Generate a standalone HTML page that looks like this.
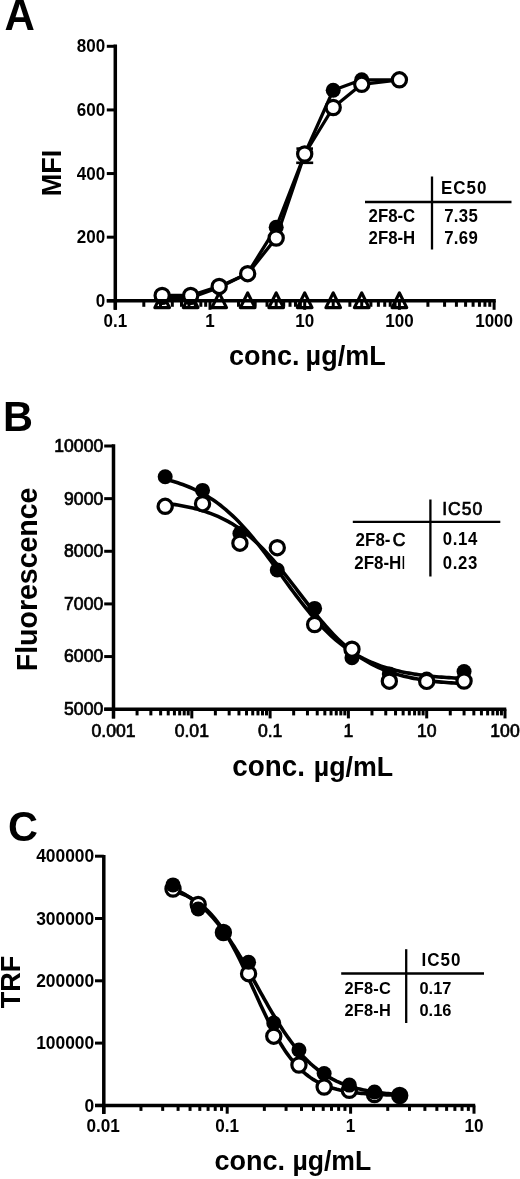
<!DOCTYPE html>
<html><head><meta charset="utf-8"><title>Figure</title>
<style>
html,body{margin:0;padding:0;background:#fff;}
body{width:520px;height:1179px;overflow:hidden;}
svg{display:block;filter:grayscale(100%);}
svg text{font-family:"Liberation Sans", sans-serif;fill:#000;}
</style></head><body>
<svg width="520" height="1179" viewBox="0 0 520 1179">
<rect width="520" height="1179" fill="#fff"/>
<text transform="translate(4.60,29.80) scale(1,1.04)" font-size="42" font-weight="bold" text-anchor="start" >A</text>
<polygon points="162.16,292.90 154.86,307.60 169.46,307.60" fill="#fff" stroke="#000" stroke-width="3.2" stroke-linejoin="round"/>
<polygon points="190.67,292.90 183.37,307.60 197.97,307.60" fill="#fff" stroke="#000" stroke-width="3.2" stroke-linejoin="round"/>
<polygon points="219.18,292.90 211.88,307.60 226.48,307.60" fill="#fff" stroke="#000" stroke-width="3.2" stroke-linejoin="round"/>
<polygon points="247.68,292.90 240.38,307.60 254.98,307.60" fill="#fff" stroke="#000" stroke-width="3.2" stroke-linejoin="round"/>
<polygon points="276.19,292.90 268.89,307.60 283.49,307.60" fill="#fff" stroke="#000" stroke-width="3.2" stroke-linejoin="round"/>
<polygon points="304.70,292.90 297.40,307.60 312.00,307.60" fill="#fff" stroke="#000" stroke-width="3.2" stroke-linejoin="round"/>
<polygon points="333.21,292.90 325.91,307.60 340.51,307.60" fill="#fff" stroke="#000" stroke-width="3.2" stroke-linejoin="round"/>
<polygon points="361.72,292.90 354.42,307.60 369.02,307.60" fill="#fff" stroke="#000" stroke-width="3.2" stroke-linejoin="round"/>
<polygon points="399.40,292.90 392.10,307.60 406.70,307.60" fill="#fff" stroke="#000" stroke-width="3.2" stroke-linejoin="round"/>
<polyline points="162.16,297.60 190.67,297.60 219.18,287.50 247.68,273.20 276.19,227.30 304.70,154.00 333.21,90.20 361.72,79.80 399.40,79.80" fill="none" stroke="#000" stroke-width="3.3" stroke-linejoin="round" stroke-linecap="round"/>
<polyline points="162.16,295.50 190.67,295.50 219.18,286.40 247.68,273.70 276.19,238.00 304.70,154.00 333.21,107.50 361.72,84.30 399.40,79.80" fill="none" stroke="#000" stroke-width="3.3" stroke-linejoin="round" stroke-linecap="round"/>
<circle cx="162.16" cy="297.60" r="7.5" fill="#000"/>
<circle cx="190.67" cy="297.60" r="7.5" fill="#000"/>
<circle cx="219.18" cy="287.50" r="7.5" fill="#000"/>
<circle cx="247.68" cy="273.20" r="7.5" fill="#000"/>
<circle cx="276.19" cy="227.30" r="7.5" fill="#000"/>
<circle cx="304.70" cy="154.00" r="7.5" fill="#000"/>
<circle cx="333.21" cy="90.20" r="7.5" fill="#000"/>
<circle cx="361.72" cy="79.80" r="7.5" fill="#000"/>
<circle cx="399.40" cy="79.80" r="7.5" fill="#000"/>
<line x1="296.40" y1="148.60" x2="313.00" y2="148.60" stroke="#000" stroke-width="2.6" stroke-linecap="butt"/>
<line x1="296.20" y1="162.80" x2="313.20" y2="162.80" stroke="#000" stroke-width="2.6" stroke-linecap="butt"/>
<line x1="304.70" y1="148.60" x2="304.70" y2="162.80" stroke="#000" stroke-width="2.6" stroke-linecap="butt"/>
<circle cx="162.16" cy="295.50" r="7.1" fill="#fff" stroke="#000" stroke-width="3.2"/>
<circle cx="190.67" cy="295.50" r="7.1" fill="#fff" stroke="#000" stroke-width="3.2"/>
<circle cx="219.18" cy="286.40" r="7.1" fill="#fff" stroke="#000" stroke-width="3.2"/>
<circle cx="247.68" cy="273.70" r="7.1" fill="#fff" stroke="#000" stroke-width="3.2"/>
<circle cx="276.19" cy="238.00" r="7.1" fill="#fff" stroke="#000" stroke-width="3.2"/>
<circle cx="304.70" cy="154.00" r="7.1" fill="#fff" stroke="#000" stroke-width="3.2"/>
<circle cx="333.21" cy="107.50" r="7.1" fill="#fff" stroke="#000" stroke-width="3.2"/>
<circle cx="361.72" cy="84.30" r="7.1" fill="#fff" stroke="#000" stroke-width="3.2"/>
<circle cx="399.40" cy="79.80" r="7.1" fill="#fff" stroke="#000" stroke-width="3.2"/>
<line x1="115.30" y1="44.60" x2="115.30" y2="309.80" stroke="#000" stroke-width="3.5" stroke-linecap="butt"/>
<line x1="106.80" y1="300.80" x2="115.30" y2="300.80" stroke="#000" stroke-width="3.0" stroke-linecap="butt"/>
<text transform="translate(105.20,306.80) scale(1,1.04)" font-size="17" font-weight="bold" text-anchor="end" >0</text>
<line x1="106.80" y1="237.18" x2="115.30" y2="237.18" stroke="#000" stroke-width="3.0" stroke-linecap="butt"/>
<text transform="translate(105.20,243.18) scale(1,1.04)" font-size="17" font-weight="bold" text-anchor="end" >200</text>
<line x1="106.80" y1="173.55" x2="115.30" y2="173.55" stroke="#000" stroke-width="3.0" stroke-linecap="butt"/>
<text transform="translate(105.20,179.55) scale(1,1.04)" font-size="17" font-weight="bold" text-anchor="end" >400</text>
<line x1="106.80" y1="109.93" x2="115.30" y2="109.93" stroke="#000" stroke-width="3.0" stroke-linecap="butt"/>
<text transform="translate(105.20,115.93) scale(1,1.04)" font-size="17" font-weight="bold" text-anchor="end" >600</text>
<line x1="106.80" y1="46.30" x2="115.30" y2="46.30" stroke="#000" stroke-width="3.0" stroke-linecap="butt"/>
<text transform="translate(105.20,52.30) scale(1,1.04)" font-size="17" font-weight="bold" text-anchor="end" >800</text>
<line x1="106.80" y1="300.80" x2="495.80" y2="300.80" stroke="#000" stroke-width="3.5" stroke-linecap="butt"/>
<line x1="115.30" y1="300.80" x2="115.30" y2="309.80" stroke="#000" stroke-width="3.0" stroke-linecap="butt"/>
<line x1="143.81" y1="300.80" x2="143.81" y2="306.80" stroke="#000" stroke-width="3.0" stroke-linecap="butt"/>
<line x1="160.48" y1="300.80" x2="160.48" y2="306.80" stroke="#000" stroke-width="3.0" stroke-linecap="butt"/>
<line x1="172.32" y1="300.80" x2="172.32" y2="306.80" stroke="#000" stroke-width="3.0" stroke-linecap="butt"/>
<line x1="181.49" y1="300.80" x2="181.49" y2="306.80" stroke="#000" stroke-width="3.0" stroke-linecap="butt"/>
<line x1="188.99" y1="300.80" x2="188.99" y2="306.80" stroke="#000" stroke-width="3.0" stroke-linecap="butt"/>
<line x1="195.33" y1="300.80" x2="195.33" y2="306.80" stroke="#000" stroke-width="3.0" stroke-linecap="butt"/>
<line x1="200.82" y1="300.80" x2="200.82" y2="306.80" stroke="#000" stroke-width="3.0" stroke-linecap="butt"/>
<line x1="205.67" y1="300.80" x2="205.67" y2="306.80" stroke="#000" stroke-width="3.0" stroke-linecap="butt"/>
<line x1="210.00" y1="300.80" x2="210.00" y2="309.80" stroke="#000" stroke-width="3.0" stroke-linecap="butt"/>
<line x1="238.51" y1="300.80" x2="238.51" y2="306.80" stroke="#000" stroke-width="3.0" stroke-linecap="butt"/>
<line x1="255.18" y1="300.80" x2="255.18" y2="306.80" stroke="#000" stroke-width="3.0" stroke-linecap="butt"/>
<line x1="267.02" y1="300.80" x2="267.02" y2="306.80" stroke="#000" stroke-width="3.0" stroke-linecap="butt"/>
<line x1="276.19" y1="300.80" x2="276.19" y2="306.80" stroke="#000" stroke-width="3.0" stroke-linecap="butt"/>
<line x1="283.69" y1="300.80" x2="283.69" y2="306.80" stroke="#000" stroke-width="3.0" stroke-linecap="butt"/>
<line x1="290.03" y1="300.80" x2="290.03" y2="306.80" stroke="#000" stroke-width="3.0" stroke-linecap="butt"/>
<line x1="295.52" y1="300.80" x2="295.52" y2="306.80" stroke="#000" stroke-width="3.0" stroke-linecap="butt"/>
<line x1="300.37" y1="300.80" x2="300.37" y2="306.80" stroke="#000" stroke-width="3.0" stroke-linecap="butt"/>
<line x1="304.70" y1="300.80" x2="304.70" y2="309.80" stroke="#000" stroke-width="3.0" stroke-linecap="butt"/>
<line x1="333.21" y1="300.80" x2="333.21" y2="306.80" stroke="#000" stroke-width="3.0" stroke-linecap="butt"/>
<line x1="349.88" y1="300.80" x2="349.88" y2="306.80" stroke="#000" stroke-width="3.0" stroke-linecap="butt"/>
<line x1="361.72" y1="300.80" x2="361.72" y2="306.80" stroke="#000" stroke-width="3.0" stroke-linecap="butt"/>
<line x1="370.89" y1="300.80" x2="370.89" y2="306.80" stroke="#000" stroke-width="3.0" stroke-linecap="butt"/>
<line x1="378.39" y1="300.80" x2="378.39" y2="306.80" stroke="#000" stroke-width="3.0" stroke-linecap="butt"/>
<line x1="384.73" y1="300.80" x2="384.73" y2="306.80" stroke="#000" stroke-width="3.0" stroke-linecap="butt"/>
<line x1="390.22" y1="300.80" x2="390.22" y2="306.80" stroke="#000" stroke-width="3.0" stroke-linecap="butt"/>
<line x1="395.07" y1="300.80" x2="395.07" y2="306.80" stroke="#000" stroke-width="3.0" stroke-linecap="butt"/>
<line x1="399.40" y1="300.80" x2="399.40" y2="309.80" stroke="#000" stroke-width="3.0" stroke-linecap="butt"/>
<line x1="427.91" y1="300.80" x2="427.91" y2="306.80" stroke="#000" stroke-width="3.0" stroke-linecap="butt"/>
<line x1="444.58" y1="300.80" x2="444.58" y2="306.80" stroke="#000" stroke-width="3.0" stroke-linecap="butt"/>
<line x1="456.42" y1="300.80" x2="456.42" y2="306.80" stroke="#000" stroke-width="3.0" stroke-linecap="butt"/>
<line x1="465.59" y1="300.80" x2="465.59" y2="306.80" stroke="#000" stroke-width="3.0" stroke-linecap="butt"/>
<line x1="473.09" y1="300.80" x2="473.09" y2="306.80" stroke="#000" stroke-width="3.0" stroke-linecap="butt"/>
<line x1="479.43" y1="300.80" x2="479.43" y2="306.80" stroke="#000" stroke-width="3.0" stroke-linecap="butt"/>
<line x1="484.92" y1="300.80" x2="484.92" y2="306.80" stroke="#000" stroke-width="3.0" stroke-linecap="butt"/>
<line x1="489.77" y1="300.80" x2="489.77" y2="306.80" stroke="#000" stroke-width="3.0" stroke-linecap="butt"/>
<line x1="494.10" y1="300.80" x2="494.10" y2="309.80" stroke="#000" stroke-width="3.0" stroke-linecap="butt"/>
<text transform="translate(115.30,327.40) scale(1,1.04)" font-size="17" font-weight="bold" text-anchor="middle" >0.1</text>
<text transform="translate(210.00,327.40) scale(1,1.04)" font-size="17" font-weight="bold" text-anchor="middle" >1</text>
<text transform="translate(304.70,327.40) scale(1,1.04)" font-size="17" font-weight="bold" text-anchor="middle" >10</text>
<text transform="translate(399.40,327.40) scale(1,1.04)" font-size="17" font-weight="bold" text-anchor="middle" >100</text>
<text transform="translate(494.10,327.40) scale(1,1.04)" font-size="17" font-weight="bold" text-anchor="middle" >1000</text>
<text transform="translate(229.00,364.80) scale(1,1.04)" font-size="27" font-weight="bold" text-anchor="start" >conc.</text>
<text transform="translate(305.60,364.80) scale(1,1.04)" font-size="27" font-weight="bold" text-anchor="start" >µg/mL</text>
<text transform="translate(61.30,173.00) rotate(-90) scale(1,1.04)" font-size="27" font-weight="bold" text-anchor="middle">MFI</text>
<line x1="432.00" y1="176.50" x2="432.00" y2="249.50" stroke="#000" stroke-width="2.3" stroke-linecap="butt"/>
<line x1="365.00" y1="202.00" x2="511.50" y2="202.00" stroke="#000" stroke-width="2.3" stroke-linecap="butt"/>
<text transform="translate(441.00,194.20) scale(1,1.04)" font-size="17" font-weight="bold" text-anchor="start" letter-spacing="1">EC50</text>
<text transform="translate(368.60,221.60) scale(1,1.04)" font-size="16.8" font-weight="bold" text-anchor="start" >2F8-C</text>
<text transform="translate(444.20,222.00) scale(1,1.04)" font-size="16.8" font-weight="bold" text-anchor="start" letter-spacing="0.3">7.35</text>
<text transform="translate(368.60,243.90) scale(1,1.04)" font-size="16.8" font-weight="bold" text-anchor="start" >2F8-H</text>
<text transform="translate(444.20,244.40) scale(1,1.04)" font-size="16.8" font-weight="bold" text-anchor="start" letter-spacing="0.3">7.69</text>
<text transform="translate(2.90,431.30) scale(1,1.04)" font-size="41.5" font-weight="bold" text-anchor="start" >B</text>
<polyline points="165.19,479.34 167.70,479.96 170.21,480.62 172.72,481.32 175.24,482.05 177.75,482.84 180.26,483.67 182.77,484.55 185.28,485.48 187.79,486.47 190.30,487.51 192.82,488.61 195.33,489.77 197.84,490.99 200.35,492.29 202.86,493.65 205.37,495.08 207.89,496.59 210.40,498.17 212.91,499.83 215.42,501.57 217.93,503.39 220.44,505.30 222.95,507.29 225.47,509.37 227.98,511.54 230.49,513.79 233.00,516.14 235.51,518.57 238.02,521.09 240.53,523.69 243.05,526.38 245.56,529.16 248.07,532.01 250.58,534.95 253.09,537.96 255.60,541.03 258.12,544.18 260.63,547.39 263.14,550.65 265.65,553.97 268.16,557.32 270.67,560.72 273.18,564.14 275.70,567.59 278.21,571.06 280.72,574.53 283.23,578.01 285.74,581.48 288.25,584.93 290.76,588.36 293.28,591.77 295.79,595.14 298.30,598.46 300.81,601.74 303.32,604.96 305.83,608.13 308.35,611.22 310.86,614.25 313.37,617.21 315.88,620.08 318.39,622.88 320.90,625.59 323.41,628.22 325.93,630.76 328.44,633.22 330.95,635.58 333.46,637.86 335.97,640.05 338.48,642.15 340.99,644.17 343.51,646.10 346.02,647.94 348.53,649.71 351.04,651.39 353.55,652.99 356.06,654.52 358.58,655.97 361.09,657.35 363.60,658.66 366.11,659.90 368.62,661.08 371.13,662.20 373.64,663.25 376.16,664.25 378.67,665.20 381.18,666.09 383.69,666.93 386.20,667.73 388.71,668.48 391.23,669.19 393.74,669.86 396.25,670.49 398.76,671.08 401.27,671.64 403.78,672.16 406.29,672.65 408.81,673.12 411.32,673.56 413.83,673.97 416.34,674.35 418.85,674.71 421.36,675.05 423.87,675.37 426.39,675.67 428.90,675.95 431.41,676.22 433.92,676.47 436.43,676.70 438.94,676.92 441.46,677.12 443.97,677.31 446.48,677.49 448.99,677.66 451.50,677.82 454.01,677.97 456.52,678.11 459.04,678.24 461.55,678.36 464.06,678.47" fill="none" stroke="#000" stroke-width="3.6" stroke-linejoin="round" stroke-linecap="round"/>
<polyline points="165.19,503.31 167.70,503.62 170.21,503.94 172.72,504.28 175.24,504.65 177.75,505.05 180.26,505.47 182.77,505.92 185.28,506.40 187.79,506.92 190.30,507.47 192.82,508.05 195.33,508.67 197.84,509.34 200.35,510.04 202.86,510.80 205.37,511.60 207.89,512.45 210.40,513.35 212.91,514.31 215.42,515.33 217.93,516.41 220.44,517.56 222.95,518.77 225.47,520.05 227.98,521.40 230.49,522.82 233.00,524.33 235.51,525.91 238.02,527.58 240.53,529.33 243.05,531.16 245.56,533.08 248.07,535.09 250.58,537.19 253.09,539.38 255.60,541.66 258.12,544.03 260.63,546.48 263.14,549.03 265.65,551.65 268.16,554.36 270.67,557.15 273.18,560.01 275.70,562.95 278.21,565.95 280.72,569.01 283.23,572.13 285.74,575.29 288.25,578.50 290.76,581.73 293.28,585.00 295.79,588.28 298.30,591.57 300.81,594.86 303.32,598.15 305.83,601.42 308.35,604.67 310.86,607.89 313.37,611.07 315.88,614.21 318.39,617.29 320.90,620.32 323.41,623.28 325.93,626.18 328.44,629.00 330.95,631.74 333.46,634.40 335.97,636.98 338.48,639.47 340.99,641.87 343.51,644.19 346.02,646.41 348.53,648.55 351.04,650.59 353.55,652.55 356.06,654.42 358.58,656.21 361.09,657.90 363.60,659.52 366.11,661.06 368.62,662.52 371.13,663.90 373.64,665.21 376.16,666.45 378.67,667.62 381.18,668.72 383.69,669.76 386.20,670.75 388.71,671.68 391.23,672.55 393.74,673.37 396.25,674.14 398.76,674.87 401.27,675.55 403.78,676.19 406.29,676.79 408.81,677.35 411.32,677.88 413.83,678.37 416.34,678.83 418.85,679.27 421.36,679.67 423.87,680.05 426.39,680.41 428.90,680.74 431.41,681.05 433.92,681.34 436.43,681.61 438.94,681.87 441.46,682.10 443.97,682.33 446.48,682.53 448.99,682.73 451.50,682.91 454.01,683.07 456.52,683.23 459.04,683.38 461.55,683.51 464.06,683.64" fill="none" stroke="#000" stroke-width="3.6" stroke-linejoin="round" stroke-linecap="round"/>
<circle cx="165.19" cy="476.70" r="7.5" fill="#000"/>
<circle cx="202.55" cy="490.40" r="7.5" fill="#000"/>
<circle cx="239.91" cy="533.50" r="7.5" fill="#000"/>
<circle cx="277.27" cy="570.00" r="7.5" fill="#000"/>
<circle cx="314.62" cy="608.40" r="7.5" fill="#000"/>
<circle cx="351.98" cy="657.70" r="7.5" fill="#000"/>
<circle cx="389.34" cy="673.90" r="7.5" fill="#000"/>
<circle cx="426.70" cy="679.00" r="7.5" fill="#000"/>
<circle cx="464.06" cy="671.50" r="7.5" fill="#000"/>
<circle cx="165.19" cy="506.30" r="7.1" fill="#fff" stroke="#000" stroke-width="3.2"/>
<circle cx="202.55" cy="503.70" r="7.1" fill="#fff" stroke="#000" stroke-width="3.2"/>
<circle cx="239.91" cy="543.20" r="7.1" fill="#fff" stroke="#000" stroke-width="3.2"/>
<circle cx="277.27" cy="547.70" r="7.1" fill="#fff" stroke="#000" stroke-width="3.2"/>
<circle cx="314.62" cy="624.50" r="7.1" fill="#fff" stroke="#000" stroke-width="3.2"/>
<circle cx="351.98" cy="649.20" r="7.1" fill="#fff" stroke="#000" stroke-width="3.2"/>
<circle cx="389.34" cy="681.20" r="7.1" fill="#fff" stroke="#000" stroke-width="3.2"/>
<circle cx="426.70" cy="681.40" r="7.1" fill="#fff" stroke="#000" stroke-width="3.2"/>
<circle cx="464.06" cy="681.00" r="7.1" fill="#fff" stroke="#000" stroke-width="3.2"/>
<line x1="113.50" y1="444.20" x2="113.50" y2="718.40" stroke="#000" stroke-width="3.5" stroke-linecap="butt"/>
<line x1="104.20" y1="709.20" x2="113.50" y2="709.20" stroke="#000" stroke-width="3.0" stroke-linecap="butt"/>
<text transform="translate(103.20,715.10) scale(1,1.04)" font-size="17.6" font-weight="normal" text-anchor="end" stroke="#000" stroke-width="0.7">5000</text>
<line x1="104.20" y1="656.56" x2="113.50" y2="656.56" stroke="#000" stroke-width="3.0" stroke-linecap="butt"/>
<text transform="translate(103.20,662.46) scale(1,1.04)" font-size="17.6" font-weight="normal" text-anchor="end" stroke="#000" stroke-width="0.7">6000</text>
<line x1="104.20" y1="603.92" x2="113.50" y2="603.92" stroke="#000" stroke-width="3.0" stroke-linecap="butt"/>
<text transform="translate(103.20,609.82) scale(1,1.04)" font-size="17.6" font-weight="normal" text-anchor="end" stroke="#000" stroke-width="0.7">7000</text>
<line x1="104.20" y1="551.28" x2="113.50" y2="551.28" stroke="#000" stroke-width="3.0" stroke-linecap="butt"/>
<text transform="translate(103.20,557.18) scale(1,1.04)" font-size="17.6" font-weight="normal" text-anchor="end" stroke="#000" stroke-width="0.7">8000</text>
<line x1="104.20" y1="498.64" x2="113.50" y2="498.64" stroke="#000" stroke-width="3.0" stroke-linecap="butt"/>
<text transform="translate(103.20,504.54) scale(1,1.04)" font-size="17.6" font-weight="normal" text-anchor="end" stroke="#000" stroke-width="0.7">9000</text>
<line x1="104.20" y1="446.00" x2="113.50" y2="446.00" stroke="#000" stroke-width="3.0" stroke-linecap="butt"/>
<text transform="translate(103.20,451.90) scale(1,1.04)" font-size="17.6" font-weight="normal" text-anchor="end" stroke="#000" stroke-width="0.7">10000</text>
<line x1="104.20" y1="709.20" x2="506.30" y2="709.20" stroke="#000" stroke-width="3.5" stroke-linecap="butt"/>
<line x1="113.50" y1="709.20" x2="113.50" y2="718.40" stroke="#000" stroke-width="3.0" stroke-linecap="butt"/>
<line x1="137.07" y1="709.20" x2="137.07" y2="715.40" stroke="#000" stroke-width="3.0" stroke-linecap="butt"/>
<line x1="150.86" y1="709.20" x2="150.86" y2="715.40" stroke="#000" stroke-width="3.0" stroke-linecap="butt"/>
<line x1="160.64" y1="709.20" x2="160.64" y2="715.40" stroke="#000" stroke-width="3.0" stroke-linecap="butt"/>
<line x1="168.23" y1="709.20" x2="168.23" y2="715.40" stroke="#000" stroke-width="3.0" stroke-linecap="butt"/>
<line x1="174.43" y1="709.20" x2="174.43" y2="715.40" stroke="#000" stroke-width="3.0" stroke-linecap="butt"/>
<line x1="179.67" y1="709.20" x2="179.67" y2="715.40" stroke="#000" stroke-width="3.0" stroke-linecap="butt"/>
<line x1="184.21" y1="709.20" x2="184.21" y2="715.40" stroke="#000" stroke-width="3.0" stroke-linecap="butt"/>
<line x1="188.22" y1="709.20" x2="188.22" y2="715.40" stroke="#000" stroke-width="3.0" stroke-linecap="butt"/>
<line x1="191.80" y1="709.20" x2="191.80" y2="718.40" stroke="#000" stroke-width="3.0" stroke-linecap="butt"/>
<line x1="215.37" y1="709.20" x2="215.37" y2="715.40" stroke="#000" stroke-width="3.0" stroke-linecap="butt"/>
<line x1="229.16" y1="709.20" x2="229.16" y2="715.40" stroke="#000" stroke-width="3.0" stroke-linecap="butt"/>
<line x1="238.94" y1="709.20" x2="238.94" y2="715.40" stroke="#000" stroke-width="3.0" stroke-linecap="butt"/>
<line x1="246.53" y1="709.20" x2="246.53" y2="715.40" stroke="#000" stroke-width="3.0" stroke-linecap="butt"/>
<line x1="252.73" y1="709.20" x2="252.73" y2="715.40" stroke="#000" stroke-width="3.0" stroke-linecap="butt"/>
<line x1="257.97" y1="709.20" x2="257.97" y2="715.40" stroke="#000" stroke-width="3.0" stroke-linecap="butt"/>
<line x1="262.51" y1="709.20" x2="262.51" y2="715.40" stroke="#000" stroke-width="3.0" stroke-linecap="butt"/>
<line x1="266.52" y1="709.20" x2="266.52" y2="715.40" stroke="#000" stroke-width="3.0" stroke-linecap="butt"/>
<line x1="270.10" y1="709.20" x2="270.10" y2="718.40" stroke="#000" stroke-width="3.0" stroke-linecap="butt"/>
<line x1="293.67" y1="709.20" x2="293.67" y2="715.40" stroke="#000" stroke-width="3.0" stroke-linecap="butt"/>
<line x1="307.46" y1="709.20" x2="307.46" y2="715.40" stroke="#000" stroke-width="3.0" stroke-linecap="butt"/>
<line x1="317.24" y1="709.20" x2="317.24" y2="715.40" stroke="#000" stroke-width="3.0" stroke-linecap="butt"/>
<line x1="324.83" y1="709.20" x2="324.83" y2="715.40" stroke="#000" stroke-width="3.0" stroke-linecap="butt"/>
<line x1="331.03" y1="709.20" x2="331.03" y2="715.40" stroke="#000" stroke-width="3.0" stroke-linecap="butt"/>
<line x1="336.27" y1="709.20" x2="336.27" y2="715.40" stroke="#000" stroke-width="3.0" stroke-linecap="butt"/>
<line x1="340.81" y1="709.20" x2="340.81" y2="715.40" stroke="#000" stroke-width="3.0" stroke-linecap="butt"/>
<line x1="344.82" y1="709.20" x2="344.82" y2="715.40" stroke="#000" stroke-width="3.0" stroke-linecap="butt"/>
<line x1="348.40" y1="709.20" x2="348.40" y2="718.40" stroke="#000" stroke-width="3.0" stroke-linecap="butt"/>
<line x1="371.97" y1="709.20" x2="371.97" y2="715.40" stroke="#000" stroke-width="3.0" stroke-linecap="butt"/>
<line x1="385.76" y1="709.20" x2="385.76" y2="715.40" stroke="#000" stroke-width="3.0" stroke-linecap="butt"/>
<line x1="395.54" y1="709.20" x2="395.54" y2="715.40" stroke="#000" stroke-width="3.0" stroke-linecap="butt"/>
<line x1="403.13" y1="709.20" x2="403.13" y2="715.40" stroke="#000" stroke-width="3.0" stroke-linecap="butt"/>
<line x1="409.33" y1="709.20" x2="409.33" y2="715.40" stroke="#000" stroke-width="3.0" stroke-linecap="butt"/>
<line x1="414.57" y1="709.20" x2="414.57" y2="715.40" stroke="#000" stroke-width="3.0" stroke-linecap="butt"/>
<line x1="419.11" y1="709.20" x2="419.11" y2="715.40" stroke="#000" stroke-width="3.0" stroke-linecap="butt"/>
<line x1="423.12" y1="709.20" x2="423.12" y2="715.40" stroke="#000" stroke-width="3.0" stroke-linecap="butt"/>
<line x1="426.70" y1="709.20" x2="426.70" y2="718.40" stroke="#000" stroke-width="3.0" stroke-linecap="butt"/>
<line x1="450.27" y1="709.20" x2="450.27" y2="715.40" stroke="#000" stroke-width="3.0" stroke-linecap="butt"/>
<line x1="464.06" y1="709.20" x2="464.06" y2="715.40" stroke="#000" stroke-width="3.0" stroke-linecap="butt"/>
<line x1="473.84" y1="709.20" x2="473.84" y2="715.40" stroke="#000" stroke-width="3.0" stroke-linecap="butt"/>
<line x1="481.43" y1="709.20" x2="481.43" y2="715.40" stroke="#000" stroke-width="3.0" stroke-linecap="butt"/>
<line x1="487.63" y1="709.20" x2="487.63" y2="715.40" stroke="#000" stroke-width="3.0" stroke-linecap="butt"/>
<line x1="492.87" y1="709.20" x2="492.87" y2="715.40" stroke="#000" stroke-width="3.0" stroke-linecap="butt"/>
<line x1="497.41" y1="709.20" x2="497.41" y2="715.40" stroke="#000" stroke-width="3.0" stroke-linecap="butt"/>
<line x1="501.42" y1="709.20" x2="501.42" y2="715.40" stroke="#000" stroke-width="3.0" stroke-linecap="butt"/>
<line x1="505.00" y1="709.20" x2="505.00" y2="718.40" stroke="#000" stroke-width="3.0" stroke-linecap="butt"/>
<text transform="translate(113.50,737.20) scale(1,1.04)" font-size="17.6" font-weight="normal" text-anchor="middle" stroke="#000" stroke-width="0.7">0.001</text>
<text transform="translate(191.80,737.20) scale(1,1.04)" font-size="17.6" font-weight="normal" text-anchor="middle" stroke="#000" stroke-width="0.7">0.01</text>
<text transform="translate(270.10,737.20) scale(1,1.04)" font-size="17.6" font-weight="normal" text-anchor="middle" stroke="#000" stroke-width="0.7">0.1</text>
<text transform="translate(348.40,737.20) scale(1,1.04)" font-size="17.6" font-weight="normal" text-anchor="middle" stroke="#000" stroke-width="0.7">1</text>
<text transform="translate(426.70,737.20) scale(1,1.04)" font-size="17.6" font-weight="normal" text-anchor="middle" stroke="#000" stroke-width="0.7">10</text>
<text transform="translate(505.00,737.20) scale(1,1.04)" font-size="17.6" font-weight="normal" text-anchor="middle" stroke="#000" stroke-width="0.7">100</text>
<text transform="translate(232.30,775.60) scale(1,1.04)" font-size="27.8" font-weight="bold" text-anchor="start" >conc.</text>
<text transform="translate(313.80,775.60) scale(1,1.04)" font-size="26.8" font-weight="bold" text-anchor="start" >µg/mL</text>
<text transform="translate(36.80,579.40) rotate(-90) scale(1,1.04)" font-size="28.5" font-weight="bold" text-anchor="middle">Fluorescence</text>
<line x1="430.40" y1="499.50" x2="430.40" y2="576.50" stroke="#000" stroke-width="2.3" stroke-linecap="butt"/>
<line x1="352.80" y1="521.90" x2="500.30" y2="521.90" stroke="#000" stroke-width="2.3" stroke-linecap="butt"/>
<text transform="translate(442.20,515.10) scale(1,1.04)" font-size="17.5" font-weight="normal" text-anchor="start" letter-spacing="1.0" stroke="#000" stroke-width="0.7">IC50</text>
<text transform="translate(355.60,545.60) scale(1,1.04)" font-size="17" font-weight="bold" text-anchor="start" >2F8-</text>
<text transform="translate(392.80,545.60) scale(1,1.04)" font-size="17.5" font-weight="normal" text-anchor="start" stroke="#000" stroke-width="0.7">C</text>
<text transform="translate(442.80,545.40) scale(1,1.04)" font-size="16.8" font-weight="bold" text-anchor="start" letter-spacing="0.6">0.14</text>
<text transform="translate(354.20,569.40) scale(1,1.04)" font-size="17" font-weight="bold" text-anchor="start" >2F8-H</text>
<text transform="translate(401.60,569.40) scale(1,1.04)" font-size="17" font-weight="normal" text-anchor="start" >l</text>
<text transform="translate(442.80,568.70) scale(1,1.04)" font-size="16.8" font-weight="bold" text-anchor="start" letter-spacing="0.6">0.23</text>
<text transform="translate(8.00,840.60) scale(1,1.04)" font-size="41.5" font-weight="bold" text-anchor="start" >C</text>
<polyline points="173.01,888.55 174.92,889.37 176.82,890.23 178.73,891.13 180.63,892.09 182.54,893.10 184.44,894.16 186.35,895.28 188.25,896.45 190.16,897.68 192.06,898.98 193.97,900.34 195.87,901.77 197.78,903.26 199.68,904.83 201.59,906.47 203.49,908.18 205.40,909.97 207.30,911.84 209.21,913.78 211.11,915.80 213.02,917.91 214.92,920.09 216.83,922.36 218.73,924.71 220.64,927.14 222.54,929.65 224.45,932.24 226.35,934.91 228.26,937.65 230.16,940.47 232.07,943.37 233.97,946.33 235.88,949.36 237.78,952.45 239.69,955.59 241.59,958.79 243.50,962.04 245.40,965.34 247.31,968.67 249.21,972.03 251.12,975.42 253.02,978.83 254.93,982.25 256.83,985.68 258.74,989.11 260.64,992.53 262.55,995.94 264.45,999.33 266.36,1002.70 268.26,1006.03 270.17,1009.32 272.07,1012.58 273.98,1015.78 275.88,1018.93 277.79,1022.03 279.69,1025.06 281.60,1028.03 283.50,1030.92 285.41,1033.75 287.31,1036.50 289.22,1039.17 291.12,1041.77 293.03,1044.28 294.93,1046.72 296.84,1049.07 298.74,1051.35 300.65,1053.54 302.55,1055.65 304.46,1057.67 306.36,1059.62 308.27,1061.49 310.17,1063.29 312.08,1065.01 313.98,1066.65 315.89,1068.22 317.79,1069.72 319.70,1071.15 321.60,1072.52 323.51,1073.82 325.41,1075.05 327.32,1076.23 329.22,1077.35 331.13,1078.42 333.03,1079.43 334.94,1080.39 336.84,1081.30 338.75,1082.16 340.65,1082.98 342.56,1083.75 344.46,1084.49 346.37,1085.18 348.27,1085.84 350.18,1086.46 352.08,1087.05 353.99,1087.60 355.89,1088.13 357.80,1088.62 359.70,1089.09 361.61,1089.53 363.51,1089.95 365.42,1090.34 367.32,1090.71 369.23,1091.06 371.13,1091.39 373.04,1091.70 374.94,1092.00 376.85,1092.27 378.75,1092.53 380.66,1092.78 382.56,1093.01 384.47,1093.23 386.37,1093.43 388.28,1093.62 390.18,1093.81 392.09,1093.98 393.99,1094.14 395.90,1094.29 397.80,1094.43 399.71,1094.57" fill="none" stroke="#000" stroke-width="3.6" stroke-linejoin="round" stroke-linecap="round"/>
<polyline points="173.01,890.79 174.92,891.35 176.82,891.95 178.73,892.60 180.63,893.30 182.54,894.06 184.44,894.86 186.35,895.73 188.25,896.66 190.16,897.66 192.06,898.73 193.97,899.88 195.87,901.10 197.78,902.42 199.68,903.81 201.59,905.31 203.49,906.90 205.40,908.59 207.30,910.39 209.21,912.30 211.11,914.32 213.02,916.46 214.92,918.72 216.83,921.11 218.73,923.62 220.64,926.26 222.54,929.03 224.45,931.93 226.35,934.96 228.26,938.11 230.16,941.39 232.07,944.79 233.97,948.31 235.88,951.94 237.78,955.67 239.69,959.50 241.59,963.41 243.50,967.41 245.40,971.47 247.31,975.59 249.21,979.75 251.12,983.95 253.02,988.16 254.93,992.37 256.83,996.58 258.74,1000.77 260.64,1004.92 262.55,1009.03 264.45,1013.07 266.36,1017.05 268.26,1020.94 270.17,1024.75 272.07,1028.46 273.98,1032.06 275.88,1035.54 277.79,1038.91 279.69,1042.16 281.60,1045.28 283.50,1048.28 285.41,1051.14 287.31,1053.88 289.22,1056.49 291.12,1058.97 293.03,1061.32 294.93,1063.55 296.84,1065.66 298.74,1067.66 300.65,1069.54 302.55,1071.31 304.46,1072.97 306.36,1074.54 308.27,1076.01 310.17,1077.38 312.08,1078.67 313.98,1079.88 315.89,1081.00 317.79,1082.06 319.70,1083.04 321.60,1083.95 323.51,1084.80 325.41,1085.60 327.32,1086.34 329.22,1087.02 331.13,1087.66 333.03,1088.25 334.94,1088.80 336.84,1089.32 338.75,1089.79 340.65,1090.23 342.56,1090.64 344.46,1091.02 346.37,1091.37 348.27,1091.69 350.18,1091.99 352.08,1092.27 353.99,1092.53 355.89,1092.77 357.80,1092.99 359.70,1093.19 361.61,1093.38 363.51,1093.56 365.42,1093.72 367.32,1093.87 369.23,1094.01 371.13,1094.14 373.04,1094.25 374.94,1094.36 376.85,1094.46 378.75,1094.56 380.66,1094.64 382.56,1094.72 384.47,1094.80 386.37,1094.87 388.28,1094.93 390.18,1094.99 392.09,1095.04 393.99,1095.09 395.90,1095.14 397.80,1095.18 399.71,1095.22" fill="none" stroke="#000" stroke-width="3.6" stroke-linejoin="round" stroke-linecap="round"/>
<circle cx="173.01" cy="889.00" r="7.1" fill="#fff" stroke="#000" stroke-width="3.2"/>
<circle cx="198.20" cy="904.40" r="7.1" fill="#fff" stroke="#000" stroke-width="3.2"/>
<circle cx="223.39" cy="932.50" r="7.1" fill="#fff" stroke="#000" stroke-width="3.2"/>
<circle cx="248.58" cy="973.70" r="7.1" fill="#fff" stroke="#000" stroke-width="3.2"/>
<circle cx="273.76" cy="1036.20" r="7.1" fill="#fff" stroke="#000" stroke-width="3.2"/>
<circle cx="298.95" cy="1065.00" r="7.1" fill="#fff" stroke="#000" stroke-width="3.2"/>
<circle cx="324.14" cy="1087.00" r="7.1" fill="#fff" stroke="#000" stroke-width="3.2"/>
<circle cx="349.33" cy="1090.30" r="7.1" fill="#fff" stroke="#000" stroke-width="3.2"/>
<circle cx="374.52" cy="1094.60" r="7.1" fill="#fff" stroke="#000" stroke-width="3.2"/>
<circle cx="399.71" cy="1095.50" r="7.1" fill="#fff" stroke="#000" stroke-width="3.2"/>
<circle cx="173.01" cy="884.90" r="7.5" fill="#000"/>
<circle cx="198.20" cy="909.00" r="7.5" fill="#000"/>
<circle cx="223.39" cy="932.50" r="7.5" fill="#000"/>
<circle cx="248.58" cy="962.30" r="7.5" fill="#000"/>
<circle cx="273.76" cy="1023.00" r="7.5" fill="#000"/>
<circle cx="298.95" cy="1050.00" r="7.5" fill="#000"/>
<circle cx="324.14" cy="1073.50" r="7.5" fill="#000"/>
<circle cx="349.33" cy="1085.10" r="7.5" fill="#000"/>
<circle cx="374.52" cy="1092.00" r="7.5" fill="#000"/>
<circle cx="399.71" cy="1095.50" r="7.5" fill="#000"/>
<line x1="103.80" y1="855.00" x2="103.80" y2="1114.00" stroke="#000" stroke-width="3.5" stroke-linecap="butt"/>
<line x1="95.00" y1="1105.40" x2="103.80" y2="1105.40" stroke="#000" stroke-width="3.0" stroke-linecap="butt"/>
<text transform="translate(94.20,1111.50) scale(1,1.04)" font-size="17.4" font-weight="bold" text-anchor="end" >0</text>
<line x1="95.00" y1="1043.10" x2="103.80" y2="1043.10" stroke="#000" stroke-width="3.0" stroke-linecap="butt"/>
<text transform="translate(94.20,1049.20) scale(1,1.04)" font-size="17.4" font-weight="bold" text-anchor="end" >100000</text>
<line x1="95.00" y1="980.80" x2="103.80" y2="980.80" stroke="#000" stroke-width="3.0" stroke-linecap="butt"/>
<text transform="translate(94.20,986.90) scale(1,1.04)" font-size="17.4" font-weight="bold" text-anchor="end" >200000</text>
<line x1="95.00" y1="918.50" x2="103.80" y2="918.50" stroke="#000" stroke-width="3.0" stroke-linecap="butt"/>
<text transform="translate(94.20,924.60) scale(1,1.04)" font-size="17.4" font-weight="bold" text-anchor="end" >300000</text>
<line x1="95.00" y1="856.20" x2="103.80" y2="856.20" stroke="#000" stroke-width="3.0" stroke-linecap="butt"/>
<text transform="translate(94.20,862.30) scale(1,1.04)" font-size="17.4" font-weight="bold" text-anchor="end" >400000</text>
<line x1="95.00" y1="1105.40" x2="475.20" y2="1105.40" stroke="#000" stroke-width="3.5" stroke-linecap="butt"/>
<line x1="103.80" y1="1105.40" x2="103.80" y2="1113.70" stroke="#000" stroke-width="3.0" stroke-linecap="butt"/>
<line x1="140.95" y1="1105.40" x2="140.95" y2="1110.90" stroke="#000" stroke-width="3.0" stroke-linecap="butt"/>
<line x1="162.68" y1="1105.40" x2="162.68" y2="1110.90" stroke="#000" stroke-width="3.0" stroke-linecap="butt"/>
<line x1="178.09" y1="1105.40" x2="178.09" y2="1110.90" stroke="#000" stroke-width="3.0" stroke-linecap="butt"/>
<line x1="190.05" y1="1105.40" x2="190.05" y2="1110.90" stroke="#000" stroke-width="3.0" stroke-linecap="butt"/>
<line x1="199.82" y1="1105.40" x2="199.82" y2="1110.90" stroke="#000" stroke-width="3.0" stroke-linecap="butt"/>
<line x1="208.09" y1="1105.40" x2="208.09" y2="1110.90" stroke="#000" stroke-width="3.0" stroke-linecap="butt"/>
<line x1="215.24" y1="1105.40" x2="215.24" y2="1110.90" stroke="#000" stroke-width="3.0" stroke-linecap="butt"/>
<line x1="221.55" y1="1105.40" x2="221.55" y2="1110.90" stroke="#000" stroke-width="3.0" stroke-linecap="butt"/>
<line x1="227.20" y1="1105.40" x2="227.20" y2="1113.70" stroke="#000" stroke-width="3.0" stroke-linecap="butt"/>
<line x1="264.35" y1="1105.40" x2="264.35" y2="1110.90" stroke="#000" stroke-width="3.0" stroke-linecap="butt"/>
<line x1="286.08" y1="1105.40" x2="286.08" y2="1110.90" stroke="#000" stroke-width="3.0" stroke-linecap="butt"/>
<line x1="301.49" y1="1105.40" x2="301.49" y2="1110.90" stroke="#000" stroke-width="3.0" stroke-linecap="butt"/>
<line x1="313.45" y1="1105.40" x2="313.45" y2="1110.90" stroke="#000" stroke-width="3.0" stroke-linecap="butt"/>
<line x1="323.22" y1="1105.40" x2="323.22" y2="1110.90" stroke="#000" stroke-width="3.0" stroke-linecap="butt"/>
<line x1="331.49" y1="1105.40" x2="331.49" y2="1110.90" stroke="#000" stroke-width="3.0" stroke-linecap="butt"/>
<line x1="338.64" y1="1105.40" x2="338.64" y2="1110.90" stroke="#000" stroke-width="3.0" stroke-linecap="butt"/>
<line x1="344.95" y1="1105.40" x2="344.95" y2="1110.90" stroke="#000" stroke-width="3.0" stroke-linecap="butt"/>
<line x1="350.60" y1="1105.40" x2="350.60" y2="1113.70" stroke="#000" stroke-width="3.0" stroke-linecap="butt"/>
<line x1="387.75" y1="1105.40" x2="387.75" y2="1110.90" stroke="#000" stroke-width="3.0" stroke-linecap="butt"/>
<line x1="409.48" y1="1105.40" x2="409.48" y2="1110.90" stroke="#000" stroke-width="3.0" stroke-linecap="butt"/>
<line x1="424.89" y1="1105.40" x2="424.89" y2="1110.90" stroke="#000" stroke-width="3.0" stroke-linecap="butt"/>
<line x1="436.85" y1="1105.40" x2="436.85" y2="1110.90" stroke="#000" stroke-width="3.0" stroke-linecap="butt"/>
<line x1="446.62" y1="1105.40" x2="446.62" y2="1110.90" stroke="#000" stroke-width="3.0" stroke-linecap="butt"/>
<line x1="454.89" y1="1105.40" x2="454.89" y2="1110.90" stroke="#000" stroke-width="3.0" stroke-linecap="butt"/>
<line x1="462.04" y1="1105.40" x2="462.04" y2="1110.90" stroke="#000" stroke-width="3.0" stroke-linecap="butt"/>
<line x1="468.35" y1="1105.40" x2="468.35" y2="1110.90" stroke="#000" stroke-width="3.0" stroke-linecap="butt"/>
<line x1="474.00" y1="1105.40" x2="474.00" y2="1113.70" stroke="#000" stroke-width="3.0" stroke-linecap="butt"/>
<text transform="translate(103.20,1132.00) scale(1,1.04)" font-size="17.2" font-weight="bold" text-anchor="middle" >0.01</text>
<text transform="translate(227.20,1132.00) scale(1,1.04)" font-size="17.2" font-weight="bold" text-anchor="middle" >0.1</text>
<text transform="translate(350.60,1132.00) scale(1,1.04)" font-size="17.2" font-weight="bold" text-anchor="middle" >1</text>
<text transform="translate(474.00,1132.00) scale(1,1.04)" font-size="17.2" font-weight="bold" text-anchor="middle" >10</text>
<text transform="translate(214.50,1169.80) scale(1,1.04)" font-size="27" font-weight="bold" text-anchor="start" >conc.</text>
<text transform="translate(292.40,1169.80) scale(1,1.04)" font-size="26.6" font-weight="bold" text-anchor="start" >µg/mL</text>
<text transform="translate(19.60,982.00) rotate(-90) scale(1,1.04)" font-size="27" font-weight="bold" text-anchor="middle">TRF</text>
<line x1="406.20" y1="949.20" x2="406.20" y2="1023.00" stroke="#000" stroke-width="2.3" stroke-linecap="butt"/>
<line x1="341.20" y1="973.50" x2="484.00" y2="973.50" stroke="#000" stroke-width="2.3" stroke-linecap="butt"/>
<text transform="translate(421.50,966.00) scale(1,1.04)" font-size="17" font-weight="bold" text-anchor="start" letter-spacing="1">IC50</text>
<text transform="translate(344.50,993.60) scale(1,1.04)" font-size="16.4" font-weight="bold" text-anchor="start" letter-spacing="0.2">2F8-C</text>
<text transform="translate(419.50,993.60) scale(1,1.04)" font-size="16.4" font-weight="bold" text-anchor="start" >0.17</text>
<text transform="translate(344.50,1015.60) scale(1,1.04)" font-size="16.4" font-weight="bold" text-anchor="start" letter-spacing="0.2">2F8-H</text>
<text transform="translate(419.50,1015.60) scale(1,1.04)" font-size="16.4" font-weight="bold" text-anchor="start" >0.16</text>
</svg>
</body></html>
